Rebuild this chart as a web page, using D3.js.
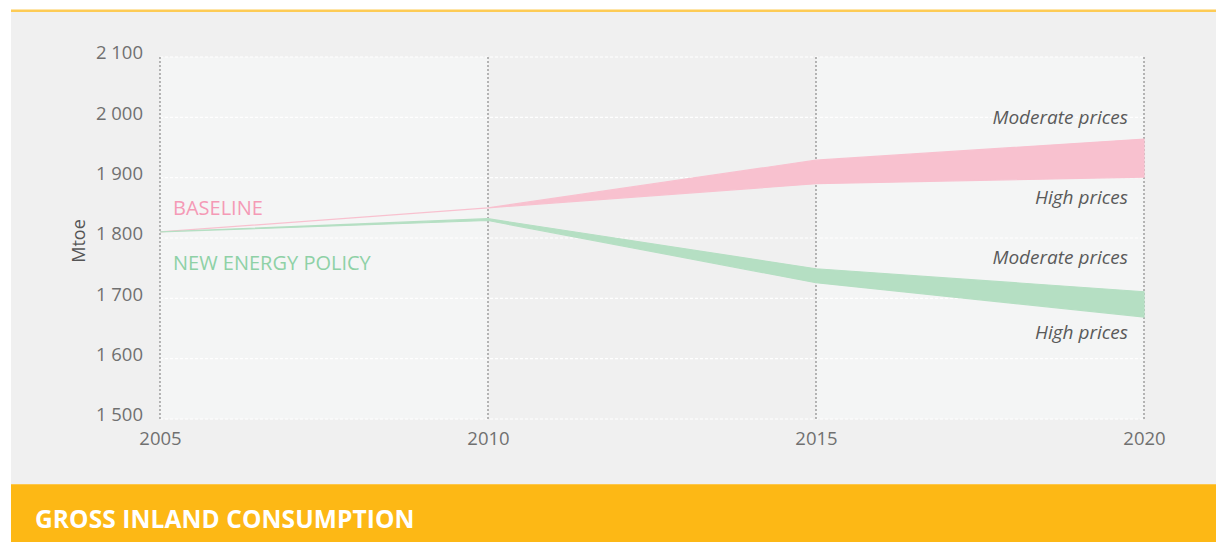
<!DOCTYPE html>
<html>
<head>
<meta charset="utf-8">
<script src="https://cdn.jsdelivr.net/npm/d3@7"></script>
<style>
  body { margin: 0; background: #fff; }
  svg { display: block; font-family: "Open Sans", "Noto Sans", sans-serif; }
</style>
</head>
<body>
<div id="chart-area"></div>
<script>
// data (Mtoe)
const years = [2005, 2010, 2015, 2020];
const yTicks = [1500, 1600, 1700, 1800, 1900, 2000, 2100];
const baselineModerate = [1810, 1850, 1929, 1964];
const baselineHigh = [1810, 1850, 1890, 1901];
const policyModerate = [1810, 1832, 1749, 1711];
const policyHigh = [1810, 1829, 1726, 1669];

const pinkBand = '#f8c1cf';
const pinkText = '#f49ab6';
const greenBand = '#b5dfc3';
const greenText = '#8ed1a6';
const fontColor = '#707070';

const W = 1216, H = 542;

const svg = d3.select("#chart-area").append("svg")
  .attr("width", W)
  .attr("height", H);

// frame
svg.append("rect").attr("x", 11).attr("y", 12).attr("width", W - 11).attr("height", 472).attr("fill", "#f0f0f0");
svg.append("rect").attr("x", 11).attr("y", 9.5).attr("width", W - 11).attr("height", 2.5).attr("fill", "#fdcb55");
svg.append("rect").attr("x", 11).attr("y", 484).attr("width", W - 11).attr("height", H - 484).attr("fill", "#fdb815");
svg.append("rect").attr("x", 11).attr("y", 484).attr("width", W - 11).attr("height", 1).attr("fill", "#fdc74a");

svg.append("text")
  .attr("x", 35).attr("y", 528)
  .attr("fill", "#fff")
  .attr("font-size", 24.5)
  .attr("font-weight", 700)
  .attr("letter-spacing", 0.1)
  .text("GROSS INLAND CONSUMPTION");

const x = d3.scaleLinear().domain([2005, 2020]).range([160, 1144]);
const y = d3.scaleLinear().domain([1500, 2100]).range([419, 57]);

// alternating column bands
svg.selectAll("rect.col")
  .data(d3.pairs(years))
  .enter().append("rect")
  .attr("class", "col")
  .attr("x", d => x(d[0]))
  .attr("width", d => x(d[1]) - x(d[0]))
  .attr("y", y(2100))
  .attr("height", y(1500) - y(2100))
  .attr("fill", (d, i) => i % 2 === 0 ? "#f4f5f5" : "#f0f0f0");

// horizontal gridlines
svg.selectAll("line.hgrid")
  .data(yTicks)
  .enter().append("line")
  .attr("class", "hgrid")
  .attr("x1", x(2005)).attr("x2", x(2020))
  .attr("y1", d => y(d)).attr("y2", d => y(d))
  .attr("stroke", "#ffffff")
  .attr("stroke-width", 1.2)
  .attr("stroke-dasharray", "3,2");

// vertical gridlines
svg.selectAll("line.vgrid")
  .data(years)
  .enter().append("line")
  .attr("class", "vgrid")
  .attr("x1", d => x(d)).attr("x2", d => x(d))
  .attr("y1", y(2100)).attr("y2", y(1500))
  .attr("stroke", "#8a8a8a")
  .attr("stroke-width", 1.2)
  .attr("stroke-dasharray", "2,2");

// bands
const area = d3.area()
  .x(d => x(d.year))
  .y0(d => y(d.lo))
  .y1(d => y(d.hi));

const baseRows = years.map((yr, i) => ({ year: yr, lo: baselineHigh[i], hi: baselineModerate[i] }));
const policyRows = years.map((yr, i) => ({ year: yr, lo: policyHigh[i], hi: policyModerate[i] }));

svg.append("path").datum(baseRows)
  .attr("d", area)
  .attr("fill", pinkBand)
  .attr("stroke", pinkBand)
  .attr("stroke-width", 1.2);

svg.append("path").datum(policyRows)
  .attr("d", area)
  .attr("fill", greenBand)
  .attr("stroke", greenBand)
  .attr("stroke-width", 1.2);

// axes
const yAxis = d3.axisLeft(y).tickValues(yTicks)
  .tickSize(0).tickPadding(0)
  .tickFormat(d => d3.format(",")(d).replace(",", " "));

const gy = svg.append("g").attr("transform", "translate(143,0)").call(yAxis);
gy.select(".domain").remove();
gy.selectAll("text")
  .attr("fill", fontColor)
  .attr("font-size", 18.5)
  .attr("font-family", '"Open Sans", sans-serif')
  .attr("dy", "0.1em");

const xAxis = d3.axisBottom(x).tickValues(years)
  .tickSize(0).tickPadding(0)
  .tickFormat(d3.format("d"));

const gx = svg.append("g").attr("transform", "translate(0,432)").call(xAxis);
gx.select(".domain").remove();
gx.selectAll("text")
  .attr("fill", fontColor)
  .attr("font-size", 18.5)
  .attr("font-family", '"Open Sans", sans-serif');

svg.append("text")
  .attr("transform", "translate(85,241) rotate(-90)")
  .attr("text-anchor", "middle")
  .attr("fill", "#555")
  .attr("font-size", 18)
  .text("Mtoe");

// series labels
svg.append("text").attr("x", 173).attr("y", 215)
  .attr("fill", pinkText).attr("font-size", 20).text("BASELINE");
svg.append("text").attr("x", 173).attr("y", 270)
  .attr("fill", greenText).attr("font-size", 20).text("NEW ENERGY POLICY");

const priceLabels = [
  { text: "Moderate prices", v: baselineModerate[3], dy: -15 },
  { text: "High prices", v: baselineHigh[3], dy: 27 },
  { text: "Moderate prices", v: policyModerate[3], dy: -28 },
  { text: "High prices", v: policyHigh[3], dy: 22 }
];

svg.selectAll("text.price")
  .data(priceLabels)
  .enter().append("text")
  .attr("class", "price")
  .attr("x", 1128)
  .attr("y", d => y(d.v) + d.dy)
  .attr("text-anchor", "end")
  .attr("fill", "#5a5a5a")
  .attr("font-size", 19)
  .attr("font-style", "italic")
  .text(d => d.text);
</script>
</body>
</html>
